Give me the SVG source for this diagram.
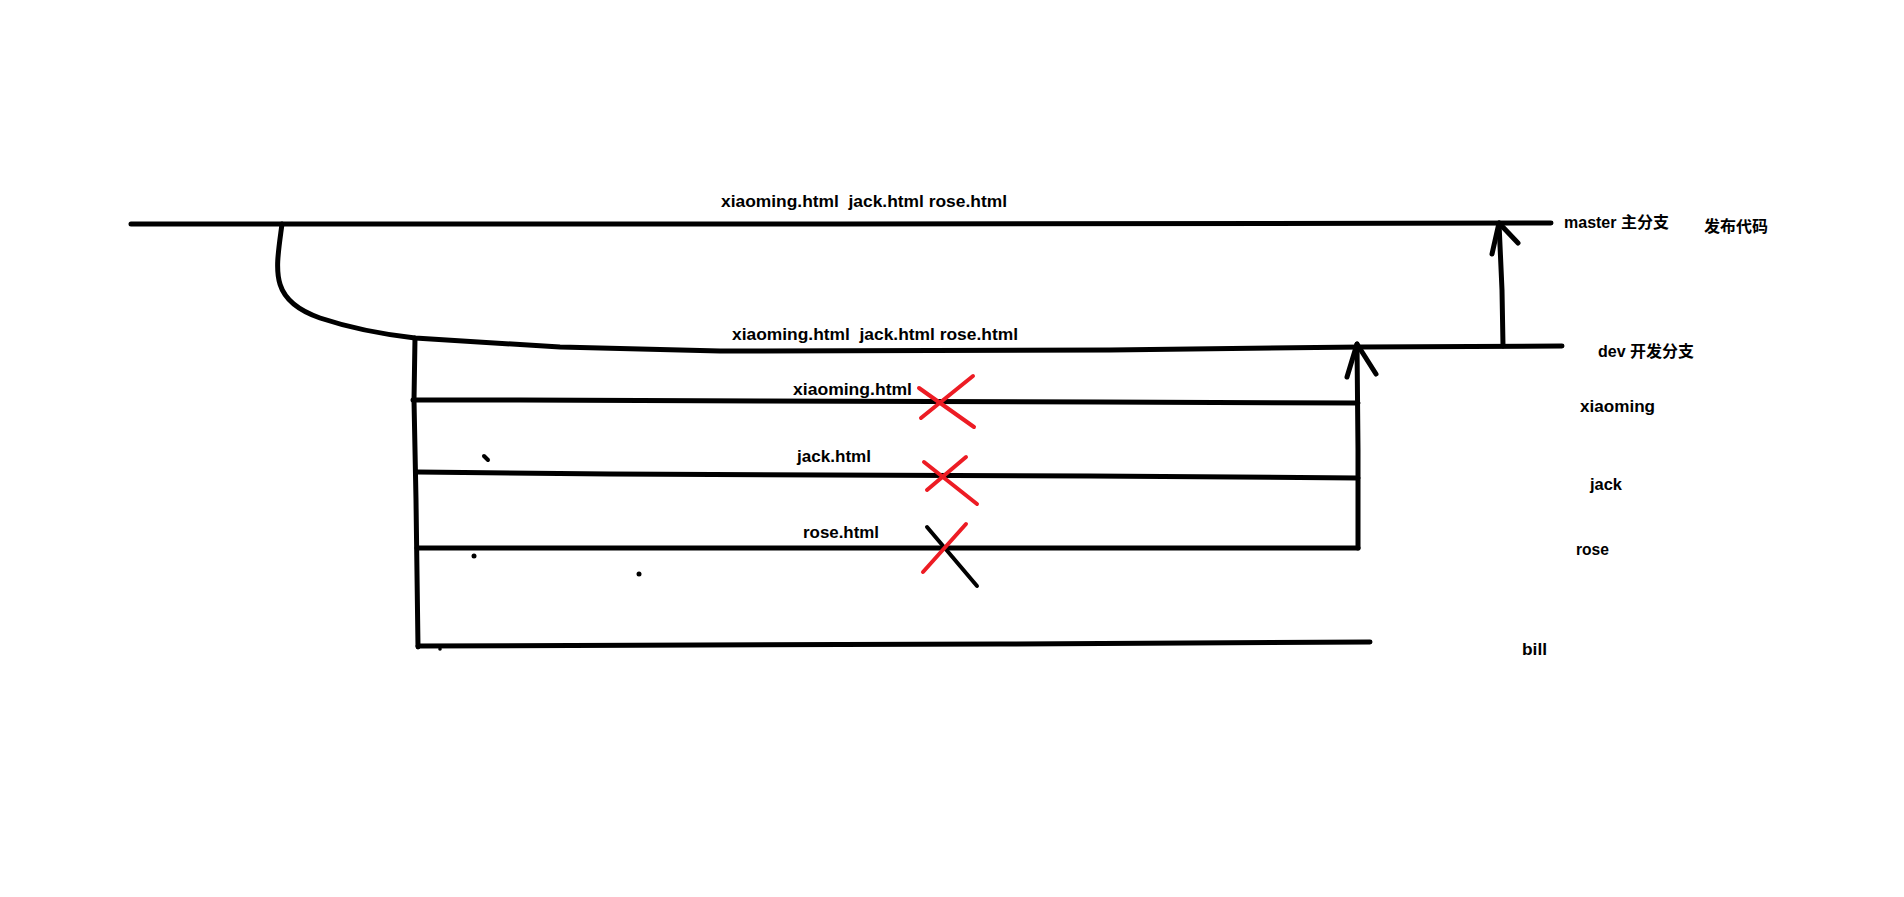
<svg xmlns="http://www.w3.org/2000/svg" width="1904" height="897" viewBox="0 0 1904 897">
<defs>
<style>
.ln{fill:none;stroke:#000;stroke-width:5;stroke-linecap:round;stroke-linejoin:round}
.red{fill:none;stroke:#ed1c24;stroke-width:4;stroke-linecap:round}
.blk{fill:none;stroke:#000;stroke-width:4;stroke-linecap:round}
.t{font-family:"Liberation Sans","Noto Sans CJK SC",sans-serif;font-weight:bold;font-size:16px;fill:#000}
</style>
</defs>
<rect width="1904" height="897" fill="#fff"/>
<g id="connectors">
<path class="ln" d="M131 224 L840 224 L1551 223"/>
<path class="ln" d="M282 224 C276 270 268 300 320 318 C350 328 380 334 415 338 L560 347 L720 351 L1110 350 L1362 347 L1562 346"/>
<path class="ln" d="M415 338 L414 400 L416 500 L418 647"/>
<path class="ln" d="M413 400 L520 400 L760 401 L1100 402 L1358 403"/>
<path class="ln" d="M417 472 L610 474 L1090 476 L1358 478"/>
<path class="ln" d="M417 548 L1358 548"/>
<path class="ln" d="M418 646 L1000 644 L1370 642"/>
<path class="ln" d="M1358 548 L1358 450 L1357 344"/>
<path class="ln" d="M1347 377 L1357 344 L1376 374"/>
<path class="ln" d="M1503 346 L1502 290 L1499 223"/>
<path class="ln" d="M1492 254 L1499 223 L1518 243"/>
<circle cx="440" cy="649" r="1.8" fill="#000"/>
<path class="blk" d="M484 456 L488 460"/>
<circle cx="474" cy="556" r="2.5" fill="#000"/>
<circle cx="639" cy="574" r="2.5" fill="#000"/>
</g>
<g id="cross-xiaoming">
<path class="red" d="M919 388 L974 427 M921 418 L973 376"/>
</g>
<g id="cross-jack">
<path class="red" d="M924 462 L977 504 M927 490 L966 457"/>
</g>
<g id="cross-rose">
<path class="blk" d="M927 527 L977 586"/>
<path class="red" d="M923 572 L966 524"/>
</g>
<g id="master-files"><text class="t" x="721" y="207" textLength="286" lengthAdjust="spacingAndGlyphs" xml:space="preserve">xiaoming.html  jack.html rose.html</text></g>
<g id="dev-files"><text class="t" x="732" y="340" textLength="286" lengthAdjust="spacingAndGlyphs" xml:space="preserve">xiaoming.html  jack.html rose.html</text></g>
<g id="xiaoming-file"><text class="t" x="793" y="395" textLength="119" lengthAdjust="spacingAndGlyphs">xiaoming.html</text></g>
<g id="jack-file"><text class="t" x="797" y="462" textLength="74" lengthAdjust="spacingAndGlyphs">jack.html</text></g>
<g id="rose-file"><text class="t" x="803" y="538" textLength="76" lengthAdjust="spacingAndGlyphs">rose.html</text></g>
<g id="master"><text class="t" x="1564" y="228">master 主分支</text></g>
<g id="release"><text class="t" x="1704" y="232">发布代码</text></g>
<g id="dev"><text class="t" x="1598" y="357">dev 开发分支</text></g>
<g id="xiaoming"><text class="t" x="1580" y="412" textLength="75" lengthAdjust="spacingAndGlyphs">xiaoming</text></g>
<g id="jack"><text class="t" x="1590" y="490" textLength="32" lengthAdjust="spacingAndGlyphs">jack</text></g>
<g id="rose"><text class="t" x="1576" y="555" textLength="33" lengthAdjust="spacingAndGlyphs">rose</text></g>
<g id="bill"><text class="t" x="1522" y="655" textLength="25" lengthAdjust="spacingAndGlyphs">bill</text></g>
</svg>
